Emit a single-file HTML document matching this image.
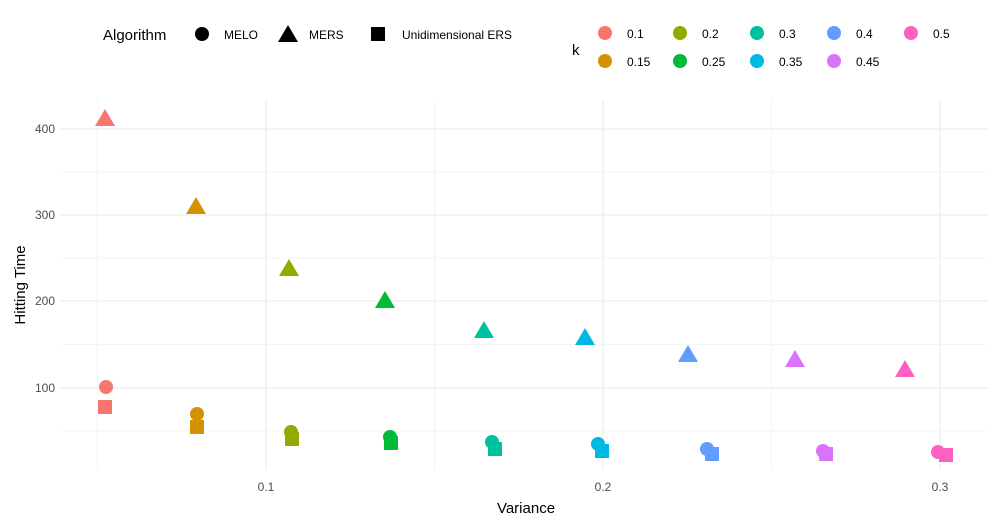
<!DOCTYPE html>
<html><head><style>body{margin:0;background:#fff}svg{display:block;font-family:"Liberation Sans",sans-serif}</style></head><body>
<svg width="998" height="527" xmlns="http://www.w3.org/2000/svg">
<g stroke="#ebebeb" stroke-width="0.6">
<line x1="60" x2="988" y1="431" y2="431"/><line x1="60" x2="988" y1="344.5" y2="344.5"/><line x1="60" x2="988" y1="258" y2="258"/><line x1="60" x2="988" y1="172" y2="172"/>
<line x1="97.5" x2="97.5" y1="100" y2="470"/><line x1="434.5" x2="434.5" y1="100" y2="470"/><line x1="771.5" x2="771.5" y1="100" y2="470"/>
</g>
<g stroke="#ebebeb" stroke-width="1.1">
<line x1="60" x2="988" y1="388" y2="388"/><line x1="60" x2="988" y1="301" y2="301"/><line x1="60" x2="988" y1="215" y2="215"/><line x1="60" x2="988" y1="129" y2="129"/>
<line x1="266" x2="266" y1="100" y2="470"/><line x1="603" x2="603" y1="100" y2="470"/><line x1="940" x2="940" y1="100" y2="470"/>
</g>
<g font-size="12" fill="#4d4d4d" text-anchor="end">
<text x="55" y="392">100</text><text x="55" y="305">200</text><text x="55" y="219">300</text><text x="55" y="133">400</text>
</g>
<g font-size="12" fill="#4d4d4d" text-anchor="middle">
<text x="266" y="491">0.1</text><text x="603" y="491">0.2</text><text x="940" y="491">0.3</text>
</g>
<text x="526" y="513" font-size="15" text-anchor="middle">Variance</text>
<text transform="translate(25,285) rotate(-90)" font-size="15" text-anchor="middle">Hitting Time</text>
<defs>
<path id="t" d="M0,-10 L10,7 L-10,7 Z"/>
</defs>
<g>
<use href="#t" x="105" y="119" fill="#F8766D"/><circle cx="106" cy="387" r="7" fill="#F8766D"/><rect x="98" y="400" width="14" height="14" fill="#F8766D"/>
<use href="#t" x="196" y="207" fill="#D39200"/><circle cx="197" cy="414" r="7" fill="#D39200"/><rect x="190" y="420" width="14" height="14" fill="#D39200"/>
<use href="#t" x="289" y="269" fill="#93AA00"/><circle cx="291" cy="432" r="7" fill="#93AA00"/><rect x="285" y="432" width="14" height="14" fill="#93AA00"/>
<use href="#t" x="385" y="301" fill="#00BA38"/><circle cx="390" cy="437" r="7" fill="#00BA38"/><rect x="384" y="436" width="14" height="14" fill="#00BA38"/>
<use href="#t" x="484" y="331" fill="#00C19F"/><circle cx="492" cy="442" r="7" fill="#00C19F"/><rect x="488" y="442" width="14" height="14" fill="#00C19F"/>
<use href="#t" x="585" y="338" fill="#00B9E3"/><circle cx="598" cy="444" r="7" fill="#00B9E3"/><rect x="595" y="444" width="14" height="14" fill="#00B9E3"/>
<use href="#t" x="688" y="355" fill="#619CFF"/><circle cx="707" cy="449" r="7" fill="#619CFF"/><rect x="705" y="447" width="14" height="14" fill="#619CFF"/>
<use href="#t" x="795" y="360" fill="#DB72FB"/><circle cx="823" cy="451" r="7" fill="#DB72FB"/><rect x="819" y="447" width="14" height="14" fill="#DB72FB"/>
<use href="#t" x="905" y="370" fill="#FF61C3"/><circle cx="938" cy="452" r="7" fill="#FF61C3"/><rect x="939" y="448" width="14" height="14" fill="#FF61C3"/>
</g>
<text x="103" y="40" font-size="15">Algorithm</text>
<circle cx="202" cy="34" r="7"/><text x="224" y="39" font-size="12">MELO</text>
<use href="#t" x="288" y="35" fill="#000"/><text x="309" y="39" font-size="12">MERS</text>
<rect x="371" y="27" width="14" height="14"/><text x="402" y="39" font-size="12">Unidimensional ERS</text>
<text x="572" y="55" font-size="15">k</text>
<g font-size="12">
<circle cx="605" cy="33" r="7" fill="#F8766D"/><text x="627" y="38">0.1</text>
<circle cx="680" cy="33" r="7" fill="#93AA00"/><text x="702" y="38">0.2</text>
<circle cx="757" cy="33" r="7" fill="#00C19F"/><text x="779" y="38">0.3</text>
<circle cx="834" cy="33" r="7" fill="#619CFF"/><text x="856" y="38">0.4</text>
<circle cx="911" cy="33" r="7" fill="#FF61C3"/><text x="933" y="38">0.5</text>
<circle cx="605" cy="61" r="7" fill="#D39200"/><text x="627" y="66">0.15</text>
<circle cx="680" cy="61" r="7" fill="#00BA38"/><text x="702" y="66">0.25</text>
<circle cx="757" cy="61" r="7" fill="#00B9E3"/><text x="779" y="66">0.35</text>
<circle cx="834" cy="61" r="7" fill="#DB72FB"/><text x="856" y="66">0.45</text>
</g>
</svg>
</body></html>
